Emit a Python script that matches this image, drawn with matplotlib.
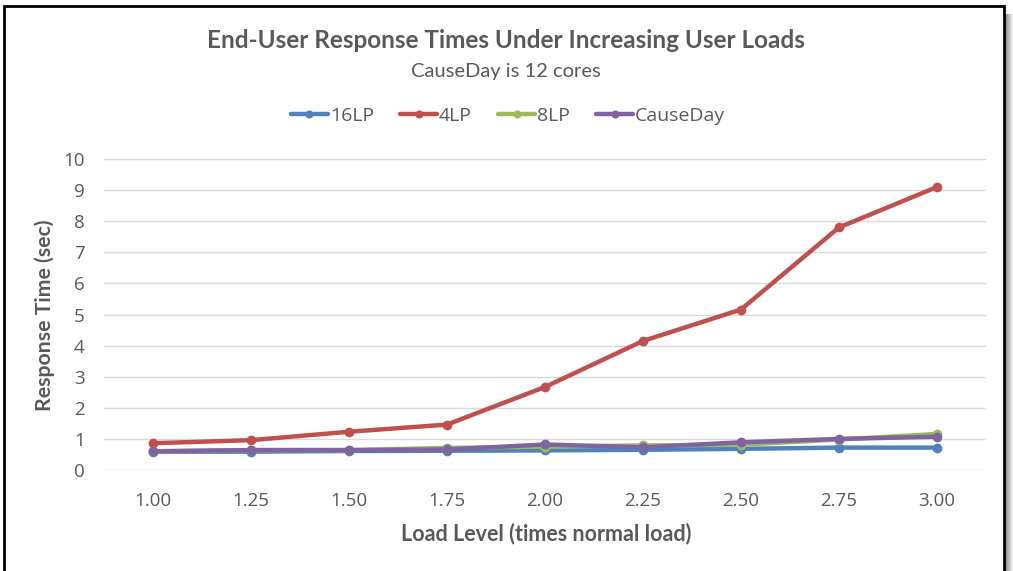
import matplotlib
matplotlib.use("Agg")
import matplotlib.pyplot as plt
from matplotlib.patches import Rectangle
import numpy as np

load_levels = ["1.00", "1.25", "1.50", "1.75", "2.00", "2.25", "2.50", "2.75", "3.00"]
series_names = ["16LP", "4LP", "8LP", "CauseDay"]
lp16 = [0.59, 0.59, 0.61, 0.62, 0.63, 0.65, 0.68, 0.72, 0.72]
lp4 = [0.86, 0.96, 1.23, 1.46, 2.67, 4.15, 5.16, 7.80, 9.10]
lp8 = [0.60, 0.64, 0.64, 0.71, 0.75, 0.79, 0.81, 0.98, 1.16]
causeday = [0.60, 0.64, 0.64, 0.66, 0.82, 0.73, 0.89, 1.00, 1.07]
colors = ["#4F81BD", "#C0504D", "#9BBB59", "#8064A2"]

W, H = 1013, 571
fig = plt.figure(figsize=(W / 100, H / 100), dpi=100)
fig.patch.set_facecolor("white")

# chart frame with drop shadow on the right
for i in range(11):
    shade = 0.35 + 0.06 * i
    fig.add_artist(Rectangle((1002 / W + i / W, 0), 1 / W, 1 - 14 / H,
                             transform=fig.transFigure, facecolor=(shade, shade, shade),
                             edgecolor="none", zorder=0))
fig.add_artist(Rectangle((4 / W, -0.05), 1000 / W, 1.05 - 6 / H,
                         transform=fig.transFigure, facecolor="white",
                         edgecolor="black", linewidth=2.0, zorder=0.5))

ax = fig.add_axes([104 / W, 1 - 470 / H, (986 - 104) / W, (470 - 159) / H])
ax.set_zorder(2)
ax.set_facecolor("none")
x = np.arange(len(load_levels))
for vals, name, c in zip([lp16, lp4, lp8, causeday], series_names, colors):
    ax.plot(x, vals, color=c, linewidth=3.2, marker="o", markersize=6,
            label=name, solid_capstyle="round", zorder=3)

ax.set_xlim(-0.5, len(load_levels) - 0.5)
ax.set_ylim(0, 10)
ax.set_yticks(range(0, 11))
ax.set_xticks(x)
ax.set_xticklabels(load_levels)
ax.grid(axis="y", color="#D9D9D9", linewidth=1.0, zorder=0)
for s in ax.spines.values():
    s.set_visible(False)
ax.tick_params(axis="both", length=0, labelsize=13.5, colors="#595959", labelfontfamily="Open Sans")
ax.tick_params(axis="y", pad=14)
ax.tick_params(axis="x", pad=16)

txt = "#595959"
fig.text(506 / W, 1 - 40 / H, "End-User Response Times Under Increasing User Loads",
         ha="center", va="center", fontsize=17.5, fontweight="bold", color=txt, family="Lato")
fig.text(506 / W, 1 - 71 / H, "CauseDay is 12 cores", ha="center", va="center",
         fontsize=14.5, color=txt, family="Lato")
fig.text(546 / W, 1 - 534 / H, "Load Level (times normal load)", ha="center", va="center",
         fontsize=15.5, fontweight="bold", color=txt, family="Lato")
fig.text(45 / W, 1 - 315 / H, "Response Time (sec)", ha="center", va="center",
         rotation=90, fontsize=15.3, fontweight="bold", color=txt, family="Lato")

leg = fig.legend(loc="center", bbox_to_anchor=(508 / W, 1 - 116 / H), ncol=4, frameon=False,
                 prop={"family": "Open Sans", "size": 14}, handlelength=1.9,
                 handletextpad=0.1, columnspacing=1.35, markerscale=0.8)
for t in leg.get_texts():
    t.set_color(txt)

fig.savefig("out.png", dpi=100, facecolor="white")
